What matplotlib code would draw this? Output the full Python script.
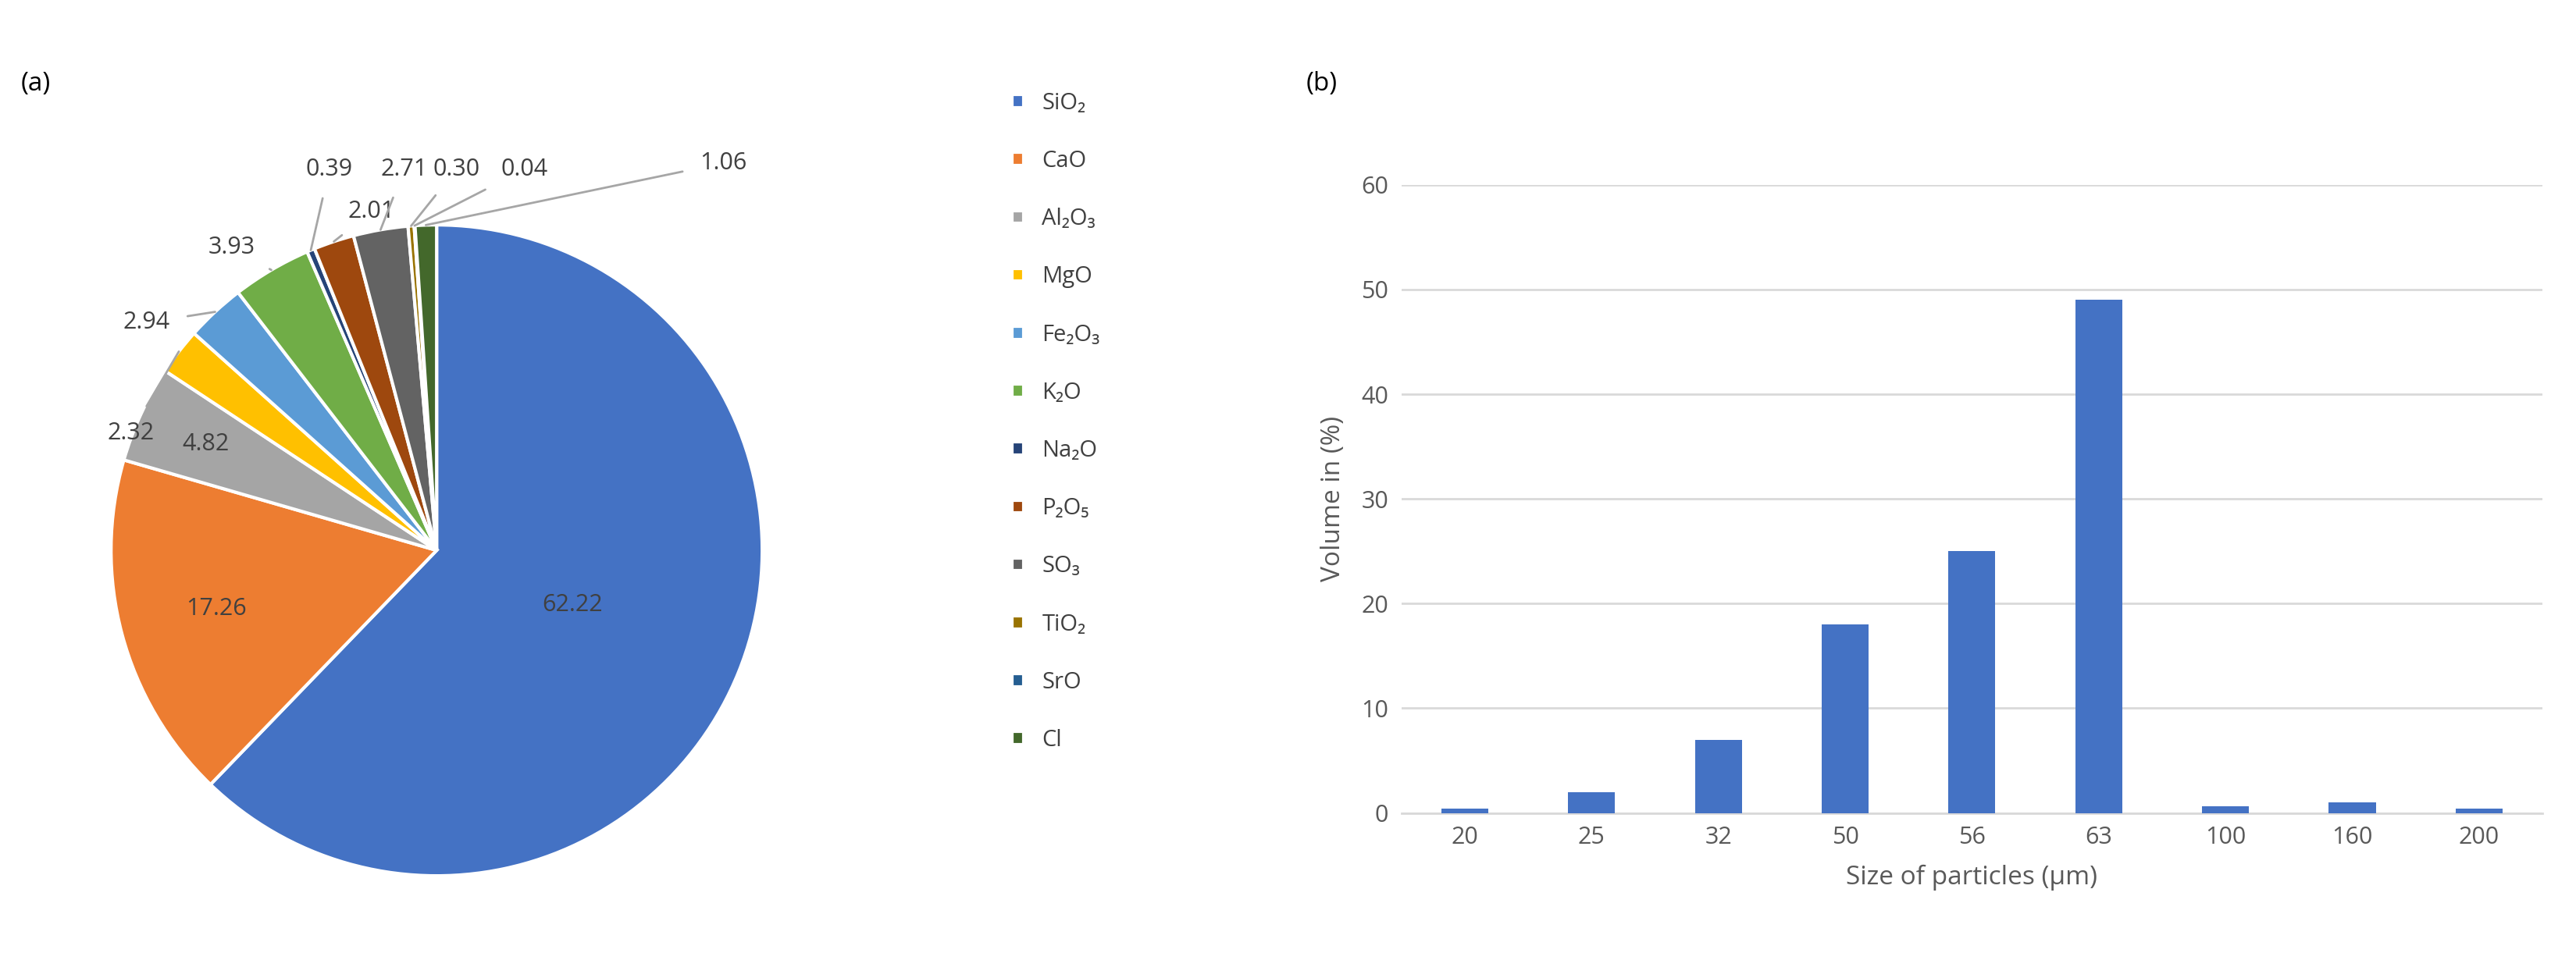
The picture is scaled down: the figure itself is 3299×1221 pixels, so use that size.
import numpy as np
import matplotlib.pyplot as plt

plt.rcParams['font.family'] = ['Open Sans', 'DejaVu Sans']

oxides = ['SiO₂', 'CaO', 'Al₂O₃', 'MgO', 'Fe₂O₃', 'K₂O', 'Na₂O', 'P₂O₅', 'SO₃', 'TiO₂', 'SrO', 'Cl']
shares = [62.22, 17.26, 4.82, 2.32, 2.94, 3.93, 0.39, 2.01, 2.71, 0.30, 0.04, 1.06]
colors = ['#4472C4', '#ED7D31', '#A5A5A5', '#FFC000', '#5B9BD5', '#70AD47',
          '#264478', '#9E480E', '#636363', '#997300', '#255E91', '#43682B']

sizes = ['20', '25', '32', '50', '56', '63', '100', '160', '200']
volume = [0.4, 2, 7, 18, 25, 49, 0.6, 1, 0.4]

fig = plt.figure(figsize=(32.99, 12.21), dpi=100)

# pie
ax1 = fig.add_axes([0.043, 0.081, 0.253, 0.683])
wedges, _ = ax1.pie(shares, colors=colors, startangle=90, counterclock=False,
                    wedgeprops=dict(edgecolor='white', linewidth=3))
ax1.set_xlim(-1, 1)
ax1.set_ylim(-1, 1)
ax1.set_aspect('equal')

# label spots for the small slices (pie units)
out_pos = {3: (-0.94, 0.36), 4: (-0.89, 0.70), 5: (-0.63, 0.93), 6: (-0.33, 1.17),
           7: (-0.2, 1.04), 8: (-0.1, 1.17), 9: (0.06, 1.17), 10: (0.27, 1.17), 11: (0.88, 1.19)}
for i, w in enumerate(wedges):
    ang = np.deg2rad((w.theta1 + w.theta2) / 2)
    txt = f'{shares[i]:.2f}'
    if i < 3:
        r = 0.45 if i == 0 else 0.7
        if i == 2:
            r = 0.78
        ax1.text(r * np.cos(ang), r * np.sin(ang), txt, ha='center', va='center',
                 fontsize=22, color='#404040')
    else:
        tx, ty = out_pos[i]
        ax1.annotate(txt, xy=(np.cos(ang), np.sin(ang)), xytext=(tx, ty),
                     ha='center', va='center', fontsize=22, color='#404040',
                     arrowprops=dict(arrowstyle='-', color='#A6A6A6', lw=2,
                                     shrinkA=14, shrinkB=0), annotation_clip=False)

fig.legend(wedges, oxides, loc='upper left', bbox_to_anchor=(0.385, 0.925),
           frameon=False, fontsize=21, handlelength=0.5, handleheight=0.5,
           labelspacing=1.55, labelcolor='#404040')
fig.text(0.008, 0.905, '(a)', fontsize=24)
fig.text(0.507, 0.905, '(b)', fontsize=24)

# bar chart
ax2 = fig.add_axes([0.544, 0.147, 0.443, 0.659])
x = np.arange(len(sizes))
ax2.bar(x, volume, width=0.37, color='#4472C4', zorder=3)
ax2.set_ylim(0, 60)
ax2.set_xlim(-0.5, len(sizes) - 0.5)
ax2.set_yticks(range(0, 61, 10))
ax2.set_xticks(x, sizes)
ax2.grid(axis='y', color='#D9D9D9', lw=2, zorder=0)
for s in ['top', 'right', 'left']:
    ax2.spines[s].set_visible(False)
ax2.spines['bottom'].set_color('#D9D9D9')
ax2.spines['bottom'].set_linewidth(2)
ax2.tick_params(length=0, labelsize=22, labelcolor='#595959', pad=12)
ax2.set_xlabel('Size of particles (µm)', fontsize=24, color='#595959', labelpad=14)
ax2.set_ylabel('Volume in (%)', fontsize=24, color='#595959', labelpad=14)

fig.savefig('out.png', dpi=100)
